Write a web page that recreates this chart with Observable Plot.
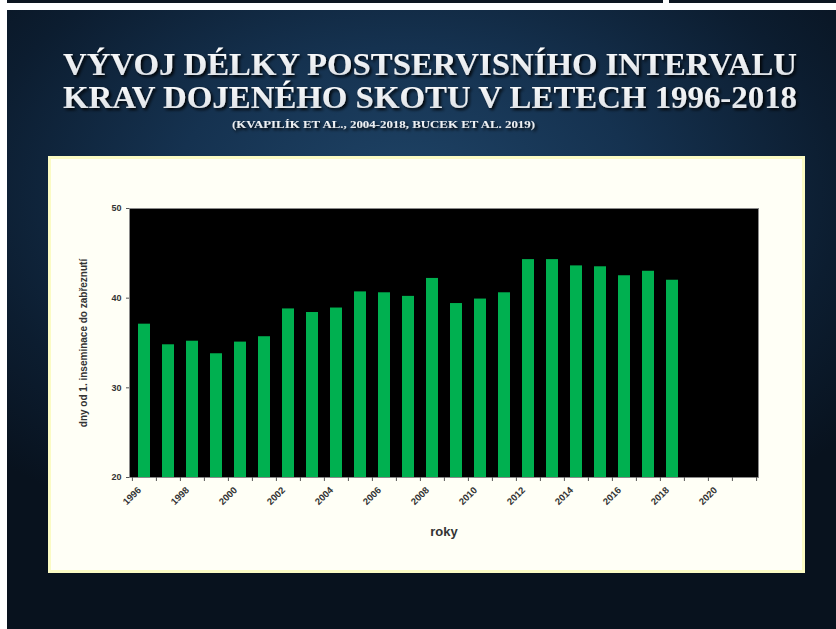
<!DOCTYPE html>
<html>
<head>
<meta charset="utf-8">
<script src="https://cdn.jsdelivr.net/npm/d3@7"></script>
<script src="https://cdn.jsdelivr.net/npm/@observablehq/plot@0.6"></script>
<style>
  html, body { margin: 0; padding: 0; background: #ffffff; }
  #page { position: relative; width: 836px; height: 629px; overflow: hidden; background: #ffffff; }
  .strip { position: absolute; top: 0; height: 3px; background: #0c1520; }
  #slide { position: absolute; left: 7px; top: 10px; width: 829px; height: 619px;
    background: radial-gradient(ellipse 70% 60% at 48% 30%, #1f4467 0%, #153250 40%, #0c1d30 75%, #08121e 100%); }
  #title { position: absolute; left: 0; top: 0; }
  #card { position: absolute; left: 48px; top: 156px; width: 751px; height: 411px;
    background: #fffff6; border: 3px solid #fbfbc4; }
  #chart { position: absolute; left: 48px; top: 156px; }
</style>
</head>
<body>
<div id="page">
  <div class="strip" style="left:7px; width:656px;"></div>
  <div class="strip" style="left:669px; width:167px;"></div>
  <div id="slide"></div>
  <svg id="title" width="836" height="150" xmlns="http://www.w3.org/2000/svg">
    <defs>
      <filter id="sh" x="-5%" y="-20%" width="110%" height="150%">
        <feDropShadow dx="2" dy="2" stdDeviation="1.5" flood-color="#000" flood-opacity="0.9"/>
      </filter>
      <linearGradient id="tg" x1="0" y1="0" x2="0" y2="1">
        <stop offset="0" stop-color="#ffffff"/>
        <stop offset="1" stop-color="#d8dde3"/>
      </linearGradient>
    </defs>
    <g font-family="'Liberation Serif', 'DejaVu Serif', serif" font-weight="bold" fill="url(#tg)" filter="url(#sh)">
      <text x="63" y="75" font-size="31" textLength="734" lengthAdjust="spacingAndGlyphs">VÝVOJ DÉLKY POSTSERVISNÍHO INTERVALU</text>
      <text x="63" y="108" font-size="31" textLength="734" lengthAdjust="spacingAndGlyphs">KRAV DOJENÉHO SKOTU V LETECH 1996-2018</text>
      <text x="232" y="128" font-size="11" textLength="303" lengthAdjust="spacingAndGlyphs">(KVAPILÍK ET AL., 2004-2018, BUCEK ET AL. 2019)</text>
    </g>
  </svg>
  <div id="card"></div>
  <div id="chart"></div>
</div>
<script>
const years = [1996, 1997, 1998, 1999, 2000, 2001, 2002, 2003, 2004, 2005, 2006, 2007,
               2008, 2009, 2010, 2011, 2012, 2013, 2014, 2015, 2016, 2017, 2018];
const days = [37.1, 34.8, 35.2, 33.8, 35.1, 35.7, 38.8, 38.4, 38.9, 40.7, 40.6, 40.2,
              42.2, 39.4, 39.9, 40.6, 44.3, 44.3, 43.6, 43.5, 42.5, 43.0, 42.0];
const axisYears = [1996, 1997, 1998, 1999, 2000, 2001, 2002, 2003, 2004, 2005, 2006, 2007, 2008,
                   2009, 2010, 2011, 2012, 2013, 2014, 2015, 2016, 2017, 2018, 2019, 2020, 2021];
const xTickLabels = [1996, 1998, 2000, 2002, 2004, 2006, 2008, 2010, 2012, 2014, 2016, 2018, 2020];
const yTicks = [20, 30, 40, 50];
const yLabel = "dny od 1. inseminace do zabřeznutí";
const xLabel = "roky";

const data = years.map((year, i) => ({year, days: days[i]}));

const W = 757, H = 417;
const mL = 81, mR = 47, mT = 52, mB = 96;
const step = (W - mL - mR) / axisYears.length;

const chart = Plot.plot({
  width: W,
  height: H,
  marginLeft: mL,
  marginRight: mR,
  marginTop: mT,
  marginBottom: mB,
  style: {background: "transparent", fontFamily: "'Liberation Sans', Arial, sans-serif", fontWeight: "bold", color: "#333"},
  x: {type: "band", domain: axisYears, paddingInner: 0.5, paddingOuter: 0.25},
  y: {domain: [yTicks[0], yTicks[yTicks.length - 1]]},
  marks: [
    Plot.frame({fill: "black", stroke: "#8a8a8a", strokeWidth: 1}),
    Plot.barY(data, {x: "year", y1: yTicks[0], y2: "days", fill: "#00b050"}),
    Plot.axisY(yTicks, {tickSize: 3, tickPadding: 5, fontSize: 9, stroke: "#555",
      label: yLabel, labelAnchor: "center", labelOffset: 50, labelArrow: "none"}),
    Plot.axisX(axisYears, {tickSize: 4, tickFormat: () => "", dx: -step / 2, stroke: "#555", label: null}),
    Plot.axisX([axisYears[axisYears.length - 1]], {tickSize: 4, tickFormat: () => "", dx: step / 2, stroke: "#555", label: null}),
    Plot.axisX(xTickLabels, {tickSize: 0, tickRotate: -45, tickPadding: 11, fontSize: 9.5, dx: -5,
      tickFormat: d => String(d),
      label: xLabel, labelAnchor: "center", labelOffset: 58, labelArrow: "none"})
  ]
});
chart.querySelectorAll("[aria-label='x-axis label']").forEach(e => {
  e.style.fontSize = "13px";
});
chart.querySelectorAll("[aria-label='y-axis label']").forEach(e => {
  e.style.fontSize = "10px";
});
document.getElementById("chart").appendChild(chart);
</script>
</body>
</html>
